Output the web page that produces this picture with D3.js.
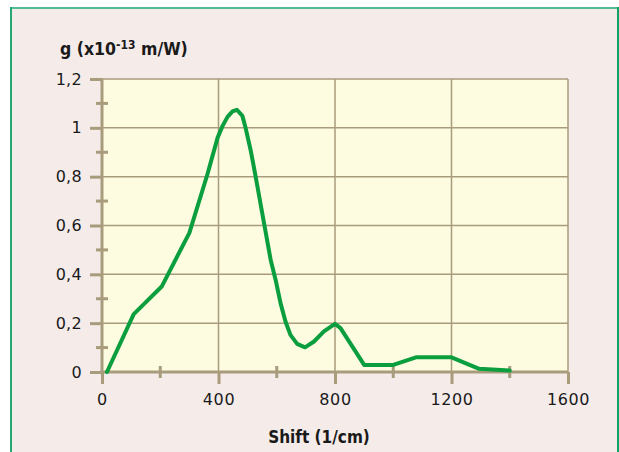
<!DOCTYPE html>
<html>
<head>
<meta charset="utf-8">
<script src="https://cdn.jsdelivr.net/npm/d3@7/dist/d3.min.js"></script>
<style>
  html, body { margin: 0; padding: 0; background: #ffffff; }
  svg { display: block; }
</style>
</head>
<body>
<svg id="chart" width="619" height="452"></svg>
<script>
// Raman gain spectrum: gain coefficient versus frequency shift
const shift = [17, 109, 205, 300, 362, 397, 414, 431, 448, 463, 482, 493, 511, 525, 579, 596, 613, 630, 647, 670, 697, 728, 762, 800, 819, 900, 1000, 1078, 1200, 1295, 1400];
const gain  = [0, 0.237, 0.35, 0.57, 0.81, 0.96, 1.008, 1.045, 1.067, 1.074, 1.049, 1.0, 0.905, 0.817, 0.46, 0.378, 0.282, 0.207, 0.152, 0.115, 0.101, 0.125, 0.166, 0.197, 0.18, 0.029, 0.029, 0.06, 0.06, 0.013, 0.006];
const xMajorTicks = [0, 400, 800, 1200, 1600];
const xMinorTicks = [200, 600, 1000, 1400];
const yMajorTicks = [0, 0.2, 0.4, 0.6, 0.8, 1, 1.2];
const yMinorTicks = [0.1, 0.3, 0.5, 0.7, 0.9, 1.1];
const yTickLabels = ["0", "0,2", "0,4", "0,6", "0,8", "1", "1,2"];

const svg = d3.select("#chart");
const W = 619, H = 452;

// panel with coloured frame
svg.append("rect").attr("x", 0).attr("y", 0).attr("width", W).attr("height", H).attr("fill", "#ffffff");
svg.append("rect").attr("x", 11).attr("y", 8).attr("width", W - 11).attr("height", H - 8).attr("fill", "#f5ecea");
svg.append("line").attr("x1", 10).attr("x2", W).attr("y1", 8).attr("y2", 8)
  .attr("stroke", "#55bb97").attr("stroke-width", 2);
svg.append("line").attr("x1", 11).attr("x2", 11).attr("y1", 7).attr("y2", H)
  .attr("stroke", "#25a874").attr("stroke-width", 2);
svg.append("line").attr("x1", 618).attr("x2", 618).attr("y1", 7).attr("y2", H)
  .attr("stroke", "#0ea466").attr("stroke-width", 2);

const plotLeft = 102, plotRight = 568, plotTop = 79, plotBottom = 372;
const x = d3.scaleLinear().domain([0, 1600]).range([plotLeft, plotRight]);
const y = d3.scaleLinear().domain([0, 1.2]).range([plotBottom, plotTop]);

const axisCol = "#a89c7c";
const textFont = "'DejaVu Sans', Verdana, sans-serif";
const titleFont = "'DejaVu Sans Condensed', 'DejaVu Sans', sans-serif";

// plot area
svg.append("rect").attr("x", plotLeft).attr("y", plotTop)
  .attr("width", plotRight - plotLeft).attr("height", plotBottom - plotTop)
  .attr("fill", "#fdfbe0");

// gridlines
const grid = svg.append("g").attr("stroke", axisCol).attr("stroke-width", 1.5);
grid.selectAll(".gy").data(yMajorTicks.filter(d => d > 0)).join("line")
  .attr("x1", plotLeft).attr("x2", plotRight).attr("y1", d => y(d)).attr("y2", d => y(d));
grid.selectAll(".gx").data(xMajorTicks.filter(d => d > 0)).join("line")
  .attr("x1", d => x(d)).attr("x2", d => x(d)).attr("y1", plotTop).attr("y2", plotBottom);

// y axis
const yAxis = svg.append("g").attr("transform", `translate(${plotLeft},0)`)
  .call(d3.axisLeft(y).tickValues(yMajorTicks).tickSize(12).tickPadding(8)
    .tickFormat((d, i) => yTickLabels[i]));
yAxis.select(".domain").attr("stroke", axisCol).attr("stroke-width", 3)
  .attr("d", `M0,${plotTop}V${plotBottom}`);
yAxis.selectAll(".tick line").attr("stroke", axisCol).attr("stroke-width", 3);
yAxis.selectAll(".tick text").attr("fill", "#1a1a1a")
  .attr("font-family", textFont).attr("font-size", 16).style("letter-spacing", "0.3px");
svg.append("g").selectAll("line").data(yMinorTicks).join("line")
  .attr("x1", plotLeft - 6).attr("x2", plotLeft + 6).attr("y1", d => y(d)).attr("y2", d => y(d))
  .attr("stroke", axisCol).attr("stroke-width", 3);

// x axis
const xAxis = svg.append("g").attr("transform", `translate(0,${plotBottom})`)
  .call(d3.axisBottom(x).tickValues(xMajorTicks).tickSize(12).tickPadding(10).tickFormat(d3.format("d")));
xAxis.select(".domain").attr("stroke", axisCol).attr("stroke-width", 3)
  .attr("d", `M${plotLeft - 1.5},0H${plotRight}`);
xAxis.selectAll(".tick line").attr("stroke", axisCol).attr("stroke-width", 3);
xAxis.selectAll(".tick text").attr("fill", "#1a1a1a")
  .attr("font-family", textFont).attr("font-size", 16).style("letter-spacing", "0.6px");
svg.append("g").selectAll("line").data(xMinorTicks).join("line")
  .attr("x1", d => x(d)).attr("x2", d => x(d)).attr("y1", plotBottom - 6).attr("y2", plotBottom + 6)
  .attr("stroke", axisCol).attr("stroke-width", 3);

// gain curve
const line = d3.line().x((d, i) => x(shift[i])).y(d => y(d)).curve(d3.curveLinear);
svg.append("path").datum(gain).attr("d", line)
  .attr("fill", "none").attr("stroke", "#0a9e3e").attr("stroke-width", 4)
  .attr("stroke-linejoin", "round").attr("stroke-linecap", "round");

// axis titles
const yTitle = svg.append("text").attr("x", 60).attr("y", 55)
  .attr("font-family", titleFont).attr("font-weight", "bold").attr("font-size", 17.5).attr("fill", "#1a1a1a");
yTitle.append("tspan").text("g (x10");
yTitle.append("tspan").attr("dy", -6).attr("font-size", 12).text("-13");
yTitle.append("tspan").attr("dy", 6).text(" m/W)");

svg.append("text").attr("x", 319).attr("y", 443).attr("text-anchor", "middle")
  .attr("font-family", titleFont).attr("font-weight", "bold").attr("font-size", 17).attr("fill", "#1a1a1a")
  .text("Shift (1/cm)");
</script>
</body>
</html>
